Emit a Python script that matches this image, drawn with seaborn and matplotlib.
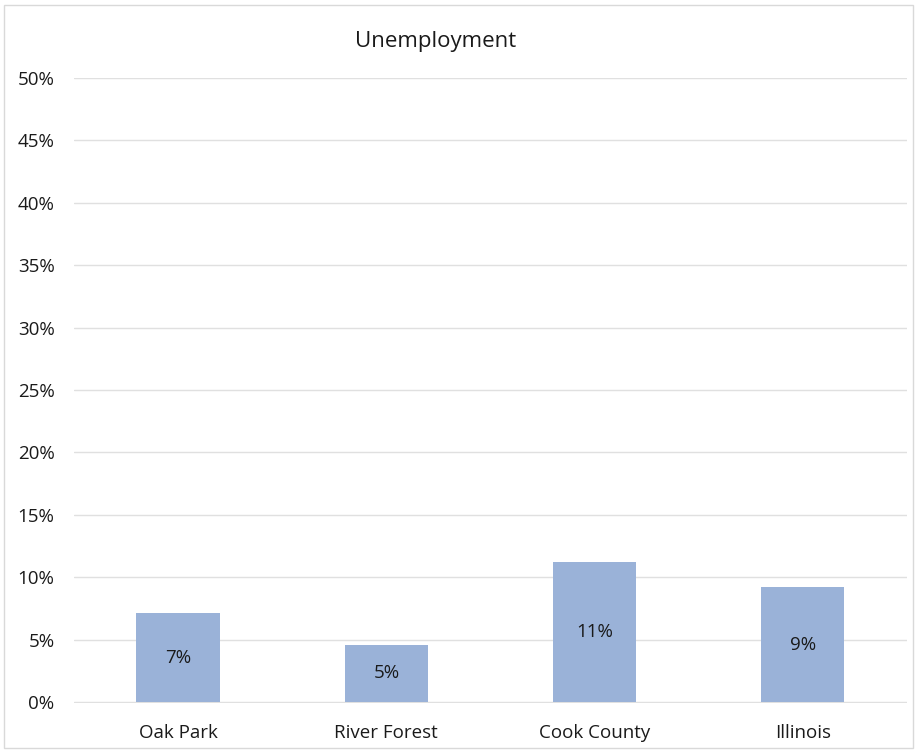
import matplotlib
matplotlib.use("Agg")
import matplotlib.pyplot as plt
import seaborn as sns
import pandas as pd
from matplotlib.ticker import PercentFormatter, MultipleLocator
from matplotlib.patches import Rectangle

# data
places = ["Oak Park", "River Forest", "Cook County", "Illinois"]
rates = [0.071, 0.046, 0.112, 0.092]
labels = ["7%", "5%", "11%", "9%"]

df = pd.DataFrame({"place": places, "rate": rates})

sns.set_style("white")
plt.rcParams["font.family"] = ["Open Sans", "DejaVu Sans"]

fig = plt.figure(figsize=(9.17, 7.51), dpi=100)
ax = fig.add_axes([0.0807, 0.0639, 0.9083, 0.8321])

sns.barplot(data=df, x="place", y="rate", color="#9AB2D8", width=0.4,
            saturation=1, linewidth=0, ax=ax)

ax.bar_label(ax.containers[0], labels=labels, label_type="center",
             fontsize=13.5, color="#1a1a1a")

ax.set_ylim(-0.0008, 0.5)
ax.set_xlim(-0.5, 3.5)
ax.yaxis.set_major_locator(MultipleLocator(0.05))
ax.yaxis.set_major_formatter(PercentFormatter(1, decimals=0))
ax.grid(axis="y", color="#e0e0e0", linewidth=1)
ax.set_axisbelow(True)
for s in ax.spines.values():
    s.set_visible(False)
ax.tick_params(axis="y", length=0, pad=14, labelsize=13.5, labelcolor="#1a1a1a")
ax.tick_params(axis="x", length=0, pad=15, labelsize=13.5, labelcolor="#1a1a1a")
ax.set_xlabel("")
ax.set_ylabel("")

fig.text(436 / 917, 1 - 42 / 751, "Unemployment", ha="center", va="center",
         fontsize=16, color="#1a1a1a")

# thin chart border
fig.patches.append(Rectangle((0.004, 0.004), 0.992, 0.99, transform=fig.transFigure,
                             fill=False, edgecolor="#d9d9d9", linewidth=1))

fig.savefig("out.png", dpi=100)
